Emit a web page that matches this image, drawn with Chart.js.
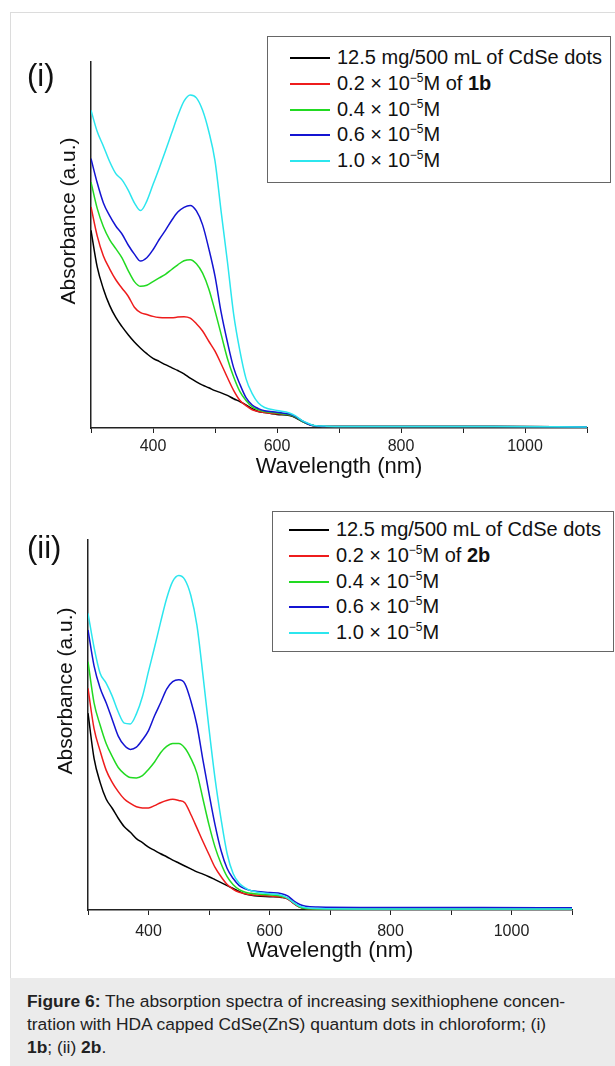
<!DOCTYPE html>
<html>
<head>
<meta charset="utf-8">
<script src="https://cdn.jsdelivr.net/npm/chart.js@4.4.0/dist/chart.umd.min.js"></script>
<style>
  body { margin: 0; width: 615px; height: 1066px; background: #fff; position: relative; overflow: hidden;
         font-family: "Liberation Sans", Arial, sans-serif; color: #111; }
  #frame { position: absolute; left: 10px; top: 12px; width: 700px; height: 1100px;
           border-left: 1px solid #dcdcdc; border-top: 1px solid #dcdcdc; }
  .panel { position: absolute; left: 0; width: 615px; height: 480px; }
  .panel canvas { position: absolute; left: 0; top: 0; }
  .tag { position: absolute; font-size: 31px; line-height: 1; }
  .ytitle { position: absolute; font-size: 21px; white-space: nowrap; transform: translate(-50%, -50%) rotate(-90deg); }
  .legend { position: absolute; border: 1px solid #666; background: #fff; box-sizing: border-box; }
  .legend .row { position: relative; height: 25.8px; font-size: 20px; white-space: nowrap; }
  .legend .sw { position: absolute; top: 12px; height: 2px; }
  .legend .txt { position: absolute; top: 0; line-height: 25.8px; }
  .legend sup { font-size: 12px; vertical-align: 8px; line-height: 0; }
  #caption { position: absolute; left: 10px; top: 978px; width: 605px; height: 88px; background: #ebebeb; }
  #caption p { margin: 0; position: absolute; left: 17px; top: 12px; font-size: 17.4px; line-height: 23px; color: #222; white-space: nowrap; }
</style>
</head>
<body>
<div id="frame"></div>

<div class="panel" style="top:0">
  <canvas id="chart1" width="615" height="480"></canvas>
  <div class="tag" style="left:27px; top:60px;">(i)</div>
  <div class="ytitle" style="left:68px; top:221px;">Absorbance (a.u.)</div>
  <div class="legend" id="legend1" style="left:267px; top:36px; width:344px; height:147px; padding-top:8px;"></div>
</div>

<div class="panel" style="top:480px">
  <canvas id="chart2" width="615" height="492"></canvas>
  <div class="tag" style="left:27px; top:52px;">(ii)</div>
  <div class="ytitle" style="left:65px; top:211px;">Absorbance (a.u.)</div>
  <div class="legend" id="legend2" style="left:272px; top:31px; width:342px; height:141px; padding-top:5px;"></div>
</div>

<div id="caption"><p><b>Figure 6:</b> The absorption spectra of increasing sexithiophene concen-<br>tration with HDA capped CdSe(ZnS) quantum dots in chloroform; (i)<br><b>1b</b>; (ii) <b>2b</b>.</p></div>

<script>
// wavelength grid (nm) shared by all curves
const wavelengths = [300, 310, 320, 330, 340, 350, 360, 370, 380, 390,
                     400, 410, 420, 430, 440, 450, 460, 470, 480, 490,
                     500, 510, 520, 530, 540, 550, 560, 570, 580, 600,
                     620, 630, 640, 650, 660, 680, 750, 850, 950, 1100];

const tickLabels = [400, 600, 800, 1000];
const concentrations = ["0.2", "0.4", "0.6", "1.0"];
const colors = ["#000000", "#ee1c1c", "#22da22", "#1414d2", "#2ce6ee"];

// panel (i): compound 1b
const dots1 = [.54, .44, .38, .335, .302, .277, .255, .235, .218, .203,
               .19, .182, .173, .165, .157, .148, .136, .126, .117, .11,
               .102, .096, .089, .08, .072, .063, .053, .045, .042, .037,
               .034, .028, .018, .011, .006, .004, .004, .004, .004, .003];
const c02_1 = [.604, .525, .47, .435, .405, .382, .36, .33, .315, .31,
               .305, .302, .301, .301, .303, .304, .30, .285, .265, .237,
               .21, .175, .138, .103, .076, .061, .05, .045, .042, .039,
               .036, .03, .02, .011, .006, .004, .004, .004, .004, .003];
const c04_1 = [.672, .60, .55, .515, .49, .465, .43, .40, .387, .39,
               .40, .41, .42, .433, .446, .457, .46, .449, .423, .38,
               .32, .255, .19, .14, .10, .075, .058, .05, .045, .041,
               .036, .03, .019, .011, .006, .004, .004, .004, .004, .003];
const c06_1 = [.736, .67, .615, .58, .552, .53, .50, .475, .456, .465,
               .487, .515, .54, .567, .59, .603, .608, .593, .555, .49,
               .415, .315, .235, .165, .12, .083, .063, .053, .047, .043,
               .038, .031, .02, .011, .006, .004, .004, .004, .004, .003];
const c10_1 = [.868, .81, .77, .728, .695, .678, .65, .615, .594, .62,
               .665, .71, .757, .805, .853, .893, .91, .902, .868, .81,
               .73, .59, .455, .312, .212, .135, .094, .068, .056, .048,
               .041, .033, .021, .013, .007, .005, .004, .004, .004, .003];

// panel (ii): compound 2b
const dots2 = [.532, .41, .345, .30, .275, .248, .225, .21, .193, .182,
               .17, .161, .152, .144, .135, .127, .119, .111, .103, .097,
               .09, .082, .074, .066, .058, .05, .043, .04, .038, .036,
               .034, .03, .018, .008, .004, .003, .003, .003, .003, .003];
const c02_2 = [.599, .49, .43, .378, .345, .32, .30, .288, .279, .276,
               .276, .282, .29, .296, .299, .296, .29, .258, .222, .185,
               .15, .115, .09, .069, .056, .048, .044, .041, .04, .038,
               .035, .03, .018, .008, .004, .003, .003, .003, .003, .003];
const c04_2 = [.671, .56, .50, .45, .415, .385, .368, .358, .357, .363,
               .38, .40, .425, .442, .45, .45, .438, .41, .37, .30,
               .23, .17, .125, .09, .068, .055, .048, .045, .043, .041,
               .037, .032, .02, .008, .004, .003, .003, .003, .003, .003];
const c06_2 = [.757, .66, .60, .56, .515, .47, .445, .434, .44, .46,
               .485, .525, .56, .597, .617, .622, .612, .565, .50, .405,
               .315, .23, .16, .112, .085, .066, .057, .052, .05, .047,
               .044, .038, .025, .015, .01, .008, .007, .007, .007, .006];
const c10_2 = [.802, .71, .64, .613, .578, .535, .505, .503, .53, .577,
               .645, .71, .778, .842, .888, .904, .893, .85, .77, .635,
               .49, .355, .245, .152, .098, .072, .06, .052, .048, .044,
               .04, .032, .02, .01, .006, .004, .003, .003, .003, .003];

function points(vals) {
  return wavelengths.map((w, i) => ({ x: w, y: vals[i] }));
}

function makeDatasets(series, compound) {
  return series.map((vals, i) => ({
    label: i === 0 ? "12.5 mg/500 mL of CdSe dots"
         : concentrations[i - 1] + " × 10⁻⁵M" + (i === 1 ? " of " + compound : ""),
    data: points(vals),
    borderColor: colors[i],
    borderWidth: 1.5,
    pointRadius: 0,
    cubicInterpolationMode: "monotone",
    order: series.length - i
  }));
}

// HTML legend so the superscript and bold compound name can be shown
function renderLegend(el, compound, swLeft) {
  el.innerHTML = "";
  colors.forEach((c, i) => {
    const row = document.createElement("div");
    row.className = "row";
    let html;
    if (i === 0) html = "12.5 mg/500 mL of CdSe dots";
    else html = concentrations[i - 1] + " × 10<sup>−5</sup>M" + (i === 1 ? " of <b>" + compound + "</b>" : "");
    row.innerHTML = `<span class="sw" style="left:${swLeft}px;width:40px;background:${c}"></span>` +
                    `<span class="txt" style="left:${swLeft + 47}px">${html}</span>`;
    el.appendChild(row);
  });
}

function makeChart(id, datasets, box) {
  const font = "'Liberation Sans', Arial, sans-serif";
  const canvas = document.getElementById(id);
  return new Chart(canvas, {
    type: "line",
    data: { datasets },
    options: {
      responsive: false,
      animation: false,
      layout: { padding: { left: box.left, right: 615 - box.right, top: box.top, bottom: 0 } },
      plugins: { legend: { display: false }, tooltip: { enabled: false } },
      scales: {
        x: {
          type: "linear",
          min: 300,
          max: 1100,
          afterFit: s => { s.height = canvas.height - box.bottom; },
          grid: { display: true, drawOnChartArea: false, drawTicks: true, tickLength: 5, color: "#222" },
          border: { display: true, color: "#222", width: 1.5 },
          ticks: {
            stepSize: 100,
            autoSkip: false,
            maxRotation: 0,
            padding: box.labelPad,
            color: "#222",
            font: { family: font, size: 16 },
            callback: v => tickLabels.includes(v) ? String(v) : ""
          },
          title: {
            display: true,
            text: "Wavelength (nm)",
            color: "#111",
            padding: { top: 0, bottom: box.titlePad },
            font: { family: font, size: 22 }
          }
        },
        y: {
          min: 0,
          max: 1,
          afterFit: s => { s.width = 0; },
          grid: { display: false },
          border: { display: true, color: "#222", width: 1.5 },
          ticks: { display: false }
        }
      }
    }
  });
}

makeChart("chart1", makeDatasets([dots1, c02_1, c04_1, c06_1, c10_1], "1b"),
  { left: 91, right: 587, top: 62, bottom: 428, labelPad: 4, titlePad: 0 });
makeChart("chart2", makeDatasets([dots2, c02_2, c04_2, c06_2, c10_2], "2b"),
  { left: 88, right: 572, top: 60, bottom: 430, labelPad: 7, titlePad: 8 });

renderLegend(document.getElementById("legend1"), "1b", 22);
renderLegend(document.getElementById("legend2"), "2b", 16);
</script>
</body>
</html>
